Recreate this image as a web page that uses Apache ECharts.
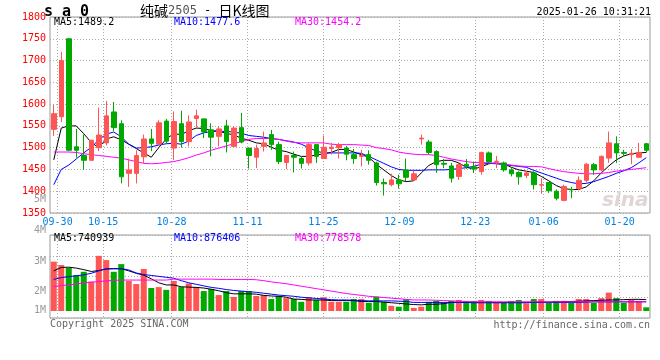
<!DOCTYPE html>
<html><head><meta charset="utf-8">
<script src="https://cdn.jsdelivr.net/npm/echarts@6/dist/echarts.min.js"></script>
<style>html,body{margin:0;padding:0;background:#fff}#c{width:660px;height:360px}</style>
</head><body><div id="c"></div>
<script>
const dates = ['09-26','09-27','09-30','10-08','10-09','10-10','10-11','10-14','10-15','10-16','10-17','10-18','10-21','10-22','10-23','10-24','10-25','10-28','10-29','10-30','10-31',
'11-01','11-04','11-05','11-06','11-07','11-08','11-11','11-12','11-13','11-14','11-15','11-18','11-19','11-20','11-21','11-22','11-25','11-26','11-27','11-28','11-29',
'12-02','12-03','12-04','12-05','12-06','12-09','12-10','12-11','12-12','12-13','12-16','12-17','12-18','12-19','12-20','12-23','12-24','12-25','12-26','12-27','12-30','12-31',
'01-02','01-03','01-06','01-07','01-08','01-09','01-10','01-13','01-14','01-15','01-16','01-17','01-20','01-21','01-22','01-23'];
const opens = [1542,1571,1750,1502,1482,1471,1500,1511,1582,1555,1441,1441,1479,1520,1508,1561,1499,1555,1514,1567,1566,1541,1526,1550,1503,1546,1499,1478,1503,1530,1507,1466,1482,1475,1465,1507,1475,1498,1500,1499,1484,1480,1484,1465,1420,1415,1426,1449,1426,1520,1513,1491,1464,1458,1434,1462,1456,1445,1488,1468,1465,1449,1443,1436,1442,1414,1420,1400,1379,1404,1406,1425,1461,1449,1476,1509,1489,1484,1478,1509];
const closes = [1578,1700,1494,1494,1471,1517,1529,1573,1546,1433,1449,1482,1520,1510,1557,1515,1560,1514,1559,1573,1536,1524,1543,1514,1545,1513,1482,1498,1511,1507,1468,1482,1478,1464,1507,1480,1501,1501,1507,1485,1475,1482,1471,1420,1417,1426,1417,1432,1440,1522,1489,1461,1462,1430,1461,1457,1451,1489,1467,1469,1449,1440,1433,1442,1415,1415,1401,1384,1411,1403,1425,1462,1449,1480,1511,1488,1487,1487,1489,1494];
const lows = [1527,1559,1492,1477,1449,1470,1492,1505,1538,1418,1410,1418,1464,1492,1506,1509,1472,1500,1503,1545,1522,1480,1503,1489,1502,1510,1452,1453,1491,1495,1462,1451,1443,1452,1459,1465,1474,1484,1475,1471,1463,1457,1461,1413,1390,1411,1406,1423,1425,1507,1484,1442,1453,1420,1426,1451,1442,1438,1465,1453,1445,1434,1415,1430,1404,1394,1396,1379,1377,1384,1402,1420,1438,1446,1465,1465,1481,1462,1476,1489];
const highs = [1598,1720,1752,1543,1530,1518,1592,1607,1605,1563,1475,1494,1530,1543,1563,1566,1583,1585,1574,1587,1567,1556,1549,1564,1549,1580,1499,1507,1537,1541,1514,1483,1491,1480,1511,1507,1528,1511,1511,1504,1497,1495,1494,1468,1429,1440,1438,1475,1447,1530,1518,1494,1474,1465,1465,1474,1468,1491,1491,1481,1468,1453,1446,1446,1446,1430,1421,1404,1415,1410,1434,1465,1465,1482,1537,1526,1495,1497,1511,1511];
const ma5 = [1472,1545,1550,1550,1532,1512,1500,1520,1525,1518,1508,1498,1488,1478,1500,1520,1532,1530,1539,1545,1544,1539,1538,1533,1529,1522,1517,1511,1509,1501,1494,1491,1485,1480,1480,1483,1486,1489,1496,1496,1490,1484,1478,1462,1449,1436,1426,1422,1424,1442,1459,1468,1471,1471,1465,1455,1451,1456,1463,1465,1463,1455,1449,1446,1443,1434,1424,1413,1406,1404,1404,1410,1424,1442,1458,1472,1481,1486,1488,1489];
const ma10 = [1415,1450,1460,1474,1488,1501,1518,1531,1536,1525,1508,1499,1500,1502,1506,1509,1510,1508,1515,1528,1534,1537,1538,1537,1536,1533,1528,1526,1524,1521,1519,1516,1513,1508,1500,1492,1488,1488,1488,1488,1488,1487,1480,1472,1464,1456,1450,1448,1448,1448,1449,1449,1449,1450,1452,1454,1457,1462,1464,1463,1461,1459,1457,1455,1448,1442,1436,1430,1424,1420,1417,1418,1422,1428,1434,1441,1447,1454,1465,1477];
const ma30 = [1490,1490,1490,1489,1486,1484,1482,1480,1478,1476,1472,1468,1464,1463,1464,1466,1468,1472,1477,1483,1488,1494,1499,1504,1509,1514,1519,1521,1521,1521,1519,1515,1512,1511,1511,1511,1511,1508,1507,1507,1507,1506,1505,1500,1498,1495,1490,1487,1485,1484,1484,1482,1478,1474,1471,1468,1466,1466,1465,1464,1462,1460,1458,1457,1457,1456,1452,1448,1445,1443,1441,1440,1440,1441,1443,1446,1448,1450,1452,1454];
const volumes = [2.98,2.87,2.78,2.54,2.65,2.33,3.17,3.03,2.65,2.90,2.35,2.25,2.74,2.12,2.15,2.06,2.35,2.15,2.27,2.15,2.02,2.09,1.89,2.02,1.83,2.02,2.02,1.86,1.89,1.76,1.86,1.79,1.76,1.67,1.82,1.73,1.82,1.67,1.67,1.67,1.76,1.76,1.64,1.84,1.67,1.54,1.51,1.76,1.47,1.51,1.67,1.70,1.64,1.70,1.73,1.70,1.70,1.73,1.70,1.64,1.64,1.70,1.73,1.62,1.76,1.76,1.64,1.70,1.70,1.64,1.76,1.76,1.64,1.79,1.97,1.79,1.64,1.73,1.70,1.49];
const volMa5 = [2.68,2.79,2.80,2.77,2.72,2.66,2.69,2.74,2.75,2.75,2.68,2.60,2.54,2.42,2.29,2.22,2.22,2.16,2.15,2.14,2.12,2.08,2.03,1.97,1.93,1.93,1.93,1.92,1.88,1.86,1.85,1.82,1.76,1.75,1.73,1.73,1.73,1.71,1.71,1.71,1.71,1.68,1.68,1.68,1.66,1.64,1.62,1.60,1.58,1.57,1.59,1.59,1.61,1.65,1.65,1.65,1.64,1.64,1.64,1.64,1.64,1.64,1.64,1.64,1.65,1.66,1.66,1.67,1.67,1.68,1.69,1.70,1.71,1.72,1.73,1.73,1.74,1.75,1.75,1.74];
const volMa10 = [2.40,2.46,2.49,2.52,2.55,2.60,2.68,2.75,2.75,2.75,2.71,2.61,2.56,2.53,2.50,2.47,2.44,2.36,2.29,2.24,2.19,2.14,2.11,2.07,2.04,2.02,2.00,1.98,1.95,1.92,1.89,1.87,1.85,1.82,1.80,1.78,1.76,1.74,1.73,1.73,1.72,1.71,1.70,1.70,1.70,1.70,1.69,1.68,1.65,1.65,1.65,1.65,1.65,1.65,1.65,1.65,1.65,1.65,1.65,1.65,1.65,1.65,1.65,1.65,1.65,1.65,1.65,1.65,1.65,1.65,1.65,1.66,1.67,1.67,1.67,1.67,1.67,1.67,1.67,1.67];
const volMa30 = [2.17,2.20,2.22,2.25,2.29,2.31,2.33,2.35,2.37,2.38,2.38,2.38,2.38,2.38,2.38,2.38,2.41,2.41,2.41,2.41,2.41,2.41,2.40,2.40,2.40,2.40,2.40,2.39,2.36,2.32,2.29,2.26,2.22,2.18,2.14,2.10,2.06,2.02,1.98,1.94,1.91,1.88,1.85,1.83,1.81,1.79,1.77,1.75,1.73,1.73,1.73,1.72,1.71,1.70,1.69,1.68,1.67,1.67,1.67,1.67,1.67,1.67,1.67,1.67,1.67,1.67,1.67,1.67,1.67,1.67,1.67,1.67,1.67,1.67,1.67,1.67,1.67,1.67,1.67,1.67];
const tickLabels = ['09-30','10-15','10-28','11-11','11-25','12-09','12-23','01-06','01-20'];
const tickSlots = [1,7,16,26,36,46,56,65,75];
const priceMin = 1350, priceMax = 1800, priceStep = 50;
const volLabelMin = 1, volLabelMax = 5;
const legendPrice = ['MA5:1489.2','MA10:1477.6','MA30:1454.2'];
const legendVol = ['MA5:740939','MA10:876406','MA30:778578'];

const MONO = '"DejaVu Sans Mono", monospace';
const RED = '#ff5555', GREEN = '#00a800';
const GRIDC = '#aaaaaa', FRAME = '#999999';
const tickRow = dates.map(() => '');
tickSlots.forEach((s, i) => { tickRow[s] = tickLabels[i]; });
const showTick = (i, v) => v !== '';
const dotted = { show: true, interval: showTick, lineStyle: { color: GRIDC, type: [1, 2], width: 1 } };

const candleData = opens.map((o, i) => [o, closes[i], lows[i], highs[i]]);
const volData = volumes.map((v, i) => ({ value: v, itemStyle: { color: closes[i] >= opens[i] ? RED : GREEN } }));

const chart = echarts.init(document.getElementById('c'), null, { renderer: 'canvas' });
const line = (name, data, color, x, y) => ({ name, type: 'line', data, xAxisIndex: x, yAxisIndex: y, symbol: 'none', silent: true,
  lineStyle: { color, width: 1 }, itemStyle: { color }, z: 5 });
const txt = (text, opts, style) => Object.assign({ text, padding: 0, textStyle: Object.assign({ fontFamily: MONO, fontSize: 10, fontWeight: 'normal', color: '#000', lineHeight: 12 }, style || {}) }, opts);

chart.setOption({
  animation: false,
  backgroundColor: '#fff',
  title: [
    txt('s a 0', { left: 44, top: 4 }, { fontSize: 15, fontWeight: 'bold', lineHeight: 16 }),
    txt('纯碱{g|2505}{d| - }日K线图', { left: 140, top: 2 }, { fontFamily: '"Noto Sans CJK SC", sans-serif', fontSize: 14, lineHeight: 17,
      rich: { g: { fontFamily: MONO, fontSize: 12, color: '#555' }, d: { fontFamily: MONO, fontSize: 12, color: '#000' } } }),
    txt('2025-01-26 10:31:21', { right: 9, top: 6 }),
    txt(legendPrice[0], { left: 54, top: 16 }, { color: '#000' }),
    txt(legendPrice[1], { left: 174, top: 16 }, { color: '#0000ff' }),
    txt(legendPrice[2], { left: 295, top: 16 }, { color: '#ff00ff' }),
    txt(legendVol[0], { left: 54, top: 232 }, { color: '#000' }),
    txt(legendVol[1], { left: 174, top: 232 }, { color: '#0000ff' }),
    txt(legendVol[2], { left: 295, top: 232 }, { color: '#ff00ff' }),
    txt('Copyright 2025 SINA.COM', { left: 50, top: 318 }, { color: '#666' }),
    txt('http://finance.sina.com.cn', { right: 10, top: 319 }, { color: '#666' }),
    txt('sina', { left: 602, top: 190 }, { fontFamily: '"DejaVu Sans", sans-serif', fontSize: 20, fontWeight: 'bold', fontStyle: 'italic', color: '#e0d6d6', lineHeight: 22 })
  ],
  grid: [
    { left: 50, right: 10, top: 17, height: 196, show: true, borderColor: FRAME, borderWidth: 1, backgroundColor: 'transparent' },
    { left: 50, right: 10, top: 235, height: 83, show: true, borderColor: FRAME, borderWidth: 1, backgroundColor: 'transparent' },
    { left: 50, right: 10, top: 235, height: 76 },
    { left: 50, right: 10, top: 199.6, height: 122.8 }
  ],
  xAxis: [
    { type: 'category', gridIndex: 0, data: dates, boundaryGap: true, show: false },
    { type: 'category', gridIndex: 0, data: tickRow, boundaryGap: false, position: 'bottom',
      axisLine: { show: false }, axisTick: { show: false }, splitLine: dotted,
      axisLabel: { interval: showTick, color: '#0080e0', fontFamily: MONO, fontSize: 10, margin: 4 } },
    { type: 'category', gridIndex: 1, data: tickRow, boundaryGap: false,
      axisLine: { show: false }, axisTick: { show: false }, axisLabel: { show: false }, splitLine: dotted },
    { type: 'category', gridIndex: 2, data: dates, boundaryGap: true, show: false },
    { type: 'category', gridIndex: 3, data: dates, show: false }
  ],
  yAxis: [
    { type: 'value', gridIndex: 0, min: priceMin, max: priceMax, interval: priceStep,
      axisLine: { show: false }, axisTick: { show: false },
      splitLine: { show: true, lineStyle: { color: GRIDC, type: [1, 2] } },
      axisLabel: { color: '#ff0000', fontFamily: MONO, fontSize: 10, margin: 4, padding: [0, 0, 3, 0], formatter: v => String(v) } },
    { type: 'value', gridIndex: 1, min: 0, max: 4, interval: 1,
      axisLine: { show: false }, axisTick: { show: false }, axisLabel: { show: false },
      splitLine: { show: true, lineStyle: { color: GRIDC, type: [1, 2] } } },
    { type: 'value', gridIndex: 2, min: 1.37, max: 3.85, show: false, splitLine: { show: false } },
    { type: 'value', gridIndex: 3, min: volLabelMin, max: volLabelMax, interval: 1,
      axisLine: { show: false }, axisTick: { show: false }, splitLine: { show: false },
      axisLabel: { color: '#999', fontFamily: MONO, fontSize: 10, margin: 4,
        formatter: v => v === volLabelMin ? '{s|' + v + 'M}' : v + 'M',
        rich: { s: { color: '#999', fontFamily: MONO, fontSize: 10, padding: [0, 0, 24, 0] } } } }
  ],
  series: [
    { name: 'K', type: 'candlestick', xAxisIndex: 0, yAxisIndex: 0, data: candleData, barWidth: 5, silent: true, z: 6,
      itemStyle: { color: RED, color0: GREEN, borderColor: RED, borderColor0: GREEN, borderWidth: 1 } },
    line('MA5', ma5, '#000000', 0, 0),
    line('MA10', ma10, '#0000ff', 0, 0),
    line('MA30', ma30, '#ff00ff', 0, 0),
    { name: 'VOL', type: 'bar', xAxisIndex: 3, yAxisIndex: 2, data: volData, barWidth: 6, silent: true, z: 4 },
    line('VMA5', volMa5, '#000000', 3, 2),
    line('VMA10', volMa10, '#0000ff', 3, 2),
    line('VMA30', volMa30, '#ff00ff', 3, 2)
  ]
});
</script></body></html>
